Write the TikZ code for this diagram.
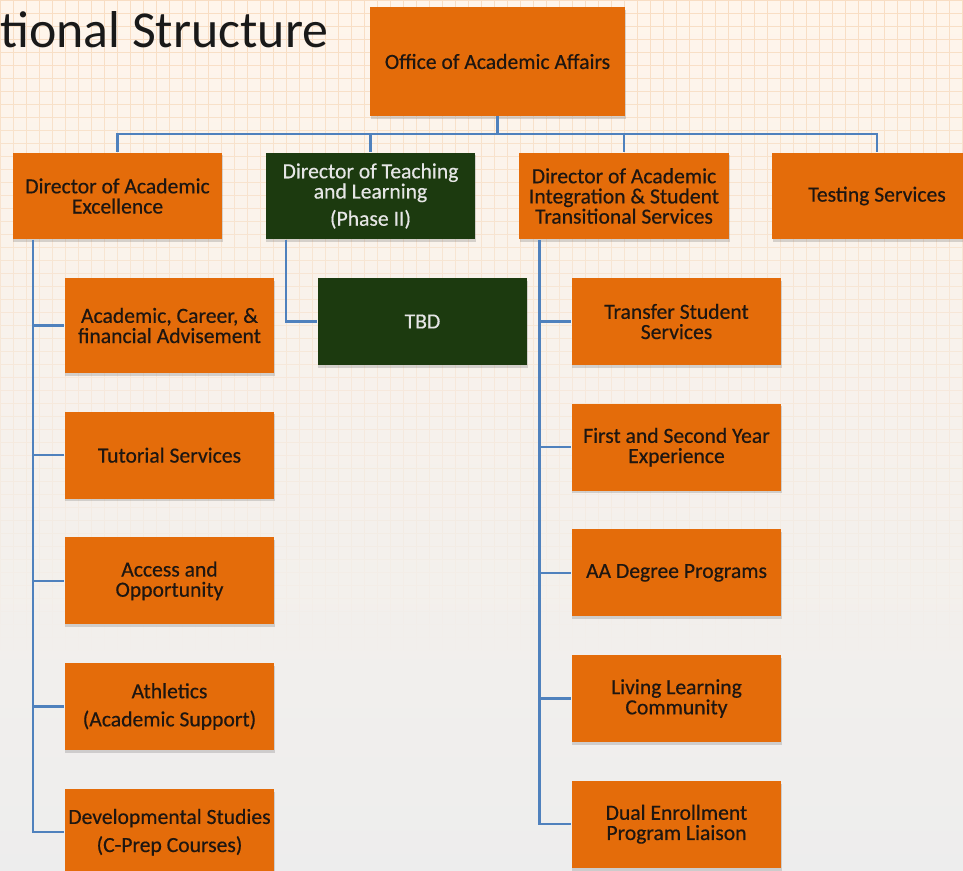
\documentclass[tikz,border=0pt]{standalone}
\usepackage{fontspec}
\newfontfamily\calibri{Carlito}
\newfontfamily\calibrib[FakeBold=0.45]{Carlito}
\usetikzlibrary{positioning, shadows}

\definecolor{unitorange}{HTML}{E46C0A}
\definecolor{unitgreen}{HTML}{1C3A0F}
\definecolor{linkblue}{HTML}{4F81BD}
\definecolor{unittext}{HTML}{1E1611}
\definecolor{gridpeach}{HTML}{F3C79C}

\begin{document}
\begin{tikzpicture}[x=0.02cm, y=-0.02cm, node distance=0.76cm,
 unit/.style={rectangle, fill=unitorange, text=unittext, align=center,
   minimum width=4.2cm, minimum height=1.74cm, inner xsep=1pt,
   font=\calibrib\fontsize{12.3}{11.5}\selectfont,
   drop shadow={shadow xshift=0.5pt, shadow yshift=-1.6pt, opacity=0.3}},
 phase/.style={unit, fill=unitgreen, text=black!10},
 link/.style={draw=linkblue, line width=1.4pt}]

  % background: graph paper fading out towards the bottom
  \useasboundingbox (0,0) rectangle (963,871);
  \clip (0,0) rectangle (963,871);
  \shade[top color=orange!8!white, bottom color=black!7] (0,0) rectangle (963,871);
  \foreach \r in {0,...,66} {
   \pgfmathsetmacro\gy{13*\r}
   \pgfmathsetmacro\op{max(0,0.5-\gy/1300)}
   \draw[gridpeach, line width=0.5pt, opacity=\op] (0,\gy) -- (963,\gy)
     \foreach \c in {0,...,74} {(13*\c,\gy) -- ++(0,13)};}

  \node[anchor=base west, inner sep=0, text=black!90,
   font=\calibri\fontsize{29.5}{30}\selectfont] (title) at (0,48) {tional Structure};

  % top levels
  \node[unit, minimum width=5.1cm, minimum height=2.18cm] (office) at (497.5,61.5) {Office of Academic Affairs};
  \node[unit] (dae) at (117.5,196) {Director of Academic\\Excellence};
  \node[phase] (dtl) at (370.5,196) {Director of Teaching\\and Learning\\[4pt](Phase II)};
  \node[unit] (dai) at (624,196) {Director of Academic\\Integration \& Student\\Transitional Services};
  \node[unit] (tst) at (877,196) {Testing Services};

  % left column
  \node[unit, minimum height=1.9cm] (acf) at (169.5,325.5) {Academic, Career, \&\\financial Advisement};
  \node[unit] (tut) [below=of acf] {Tutorial Services};
  \node[unit] (acc) [below=of tut] {Access and\\Opportunity};
  \node[unit] (ath) [below=of acc] {Athletics\\[4.5pt](Academic Support)};
  \node[unit] (dev) [below=of ath] {Developmental Studies\\[4.5pt](C-Prep Courses)};

  % middle
  \node[phase] (tbd) at (422.5,321.5) {TBD};

  % right column
  \node[unit] (tss) at (676.5,321.5) {Transfer Student\\Services};
  \node[unit] (fsy) [below=of tss] {First and Second Year\\Experience};
  \node[unit] (aad) [below=of fsy] {AA Degree Programs};
  \node[unit] (llc) [below=of aad] {Living Learning\\Community};
  \node[unit] (del) [below=of llc] {Dual Enrollment\\Program Liaison};

  % connectors
  \coordinate (bus) at (497.5,134);
  \draw[link] (office.south) -- (bus);
  \foreach \n in {dae,dtl,dai,tst}
   \draw[link] (bus) -| (\n.north);

  \coordinate (spl) at ([xshift=0.42cm]dae.south west);
  \coordinate (spm) at ([xshift=0.42cm]dtl.south west);
  \coordinate (spr) at ([xshift=0.42cm]dai.south west);
  \draw[link] (spl) |- (dev.west);
  \draw[link] (spm) |- (tbd.west);
  \draw[link] (spr) |- (del.west);
  \foreach \n in {acf,tut,acc,ath}
   \draw[link] (spl |- \n.west) -- (\n.west);
  \foreach \n in {tss,fsy,aad,llc}
   \draw[link] (spr |- \n.west) -- (\n.west);
\end{tikzpicture}
\end{document}
